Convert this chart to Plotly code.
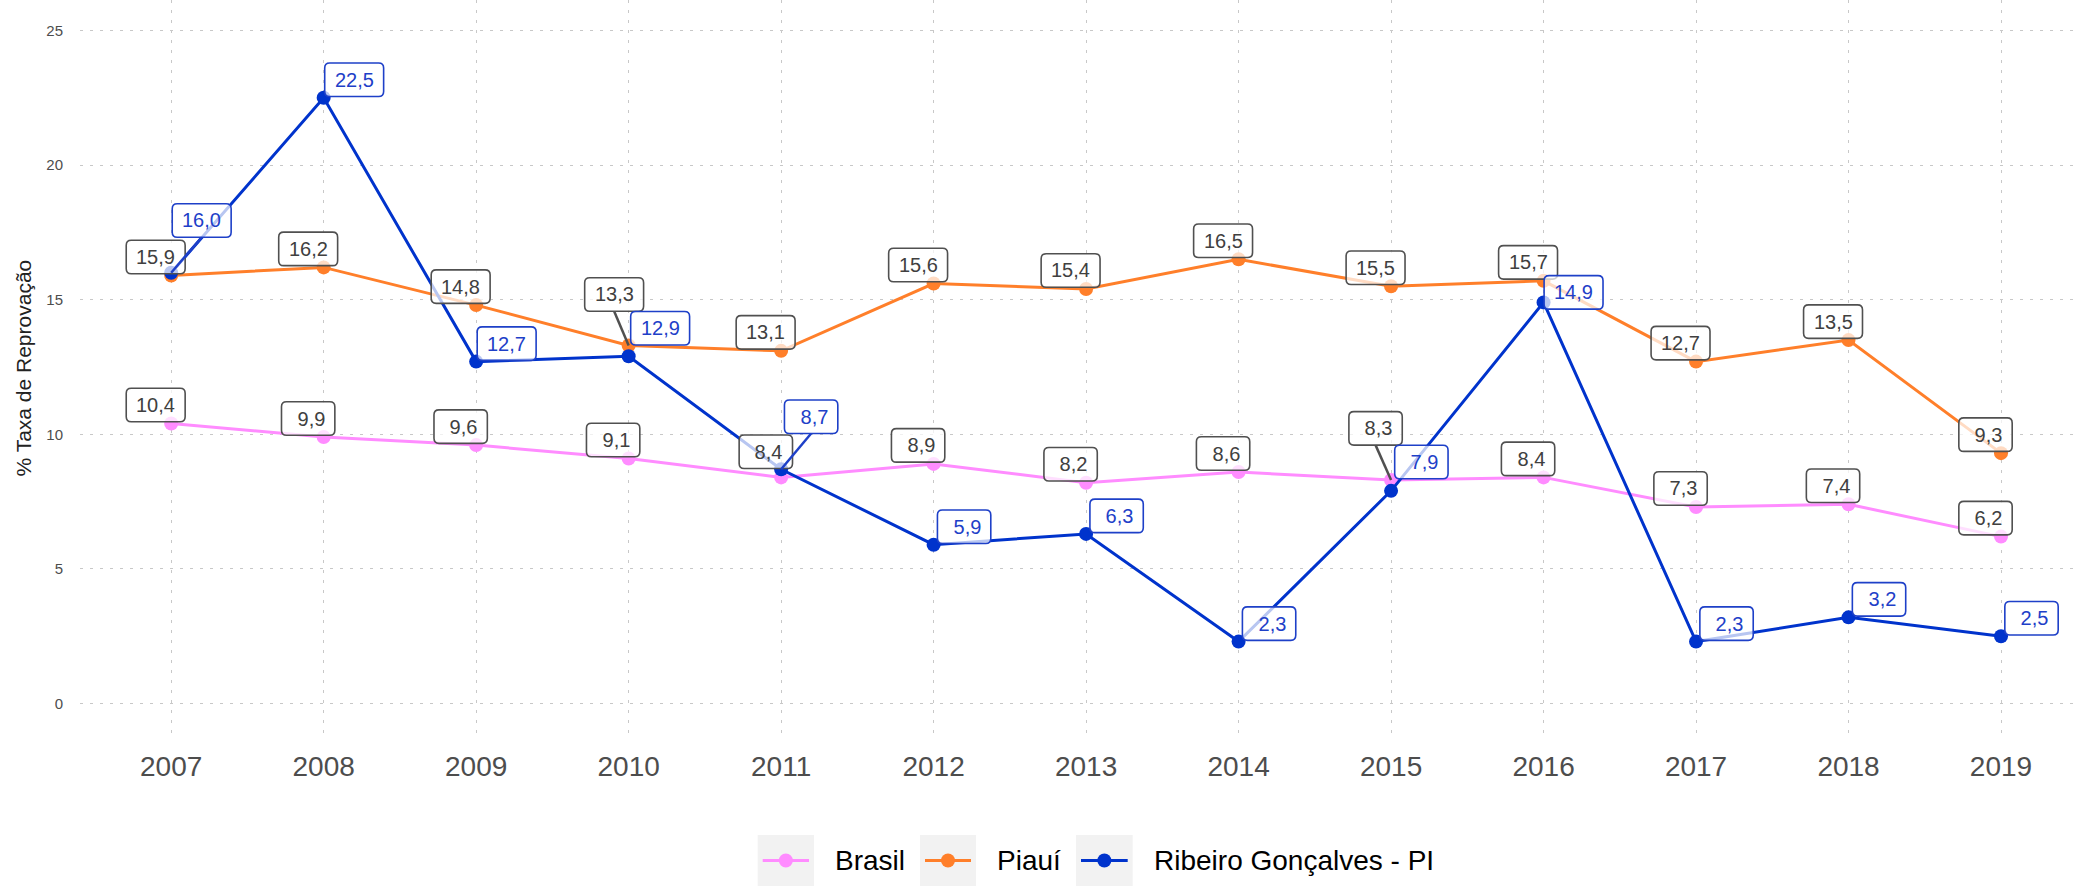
import plotly.graph_objects as go

# ---- dados ----
anos = list(range(2007, 2020))
brasil = [10.4, 9.9, 9.6, 9.1, 8.4, 8.9, 8.2, 8.6, 8.3, 8.4, 7.3, 7.4, 6.2]
piaui = [15.9, 16.2, 14.8, 13.3, 13.1, 15.6, 15.4, 16.5, 15.5, 15.7, 12.7, 13.5, 9.3]
ribeiro = [16.0, 22.5, 12.7, 12.9, 8.7, 5.9, 6.3, 2.3, 7.9, 14.9, 2.3, 3.2, 2.5]

nomes = ["Brasil", "Piauí", "Ribeiro Gonçalves - PI"]
valores = [brasil, piaui, ribeiro]
cores = ["#FF8CFF", "#FF7F2A", "#0033CC"]

FONT = "Liberation Sans, Arial, Helvetica, sans-serif"
W, H = 2080, 886
ML, MR, MT, MB = 80, 0, 0, 149
PW, PH = W - ML - MR, H - MT - MB

# posição dos rótulos (deslocamento do centro da caixa em px, y para baixo)
desloc_padrao = {0: (-15.5, -18.5), 1: (-15.5, -18.5), 2: (30.5, -18.0)}
desloc_extra = {
    (2, 2007): (30.5, -52.3),
    (2, 2010): (31.5, -28.0),
    (2, 2011): (30.0, -52.6),
    (1, 2010): (-14.5, -51.0),
    (0, 2011): (-15.3, -25.7),
    (2, 2016): (30.0, -10.0),
    (0, 2015): (-15.5, -51.7),
    (2, 2015): (30.3, -28.8),
}
com_segmento = {(2, 2007), (2, 2011), (1, 2010), (0, 2015)}

estilo_rotulo = {
    0: dict(texto="#404040", borda="#505050"),
    1: dict(texto="#404040", borda="#505050"),
    2: dict(texto="#1E40C8", borda="#1E40C8"),
}

LARG = {"0": .556, "1": .556, "2": .556, "3": .556, "4": .556, "5": .556,
        "6": .556, "7": .556, "8": .556, "9": .556, ",": .278, " ": .278}
FS_ROT = 20
BOX_H = 33.5


def formata(v):
    return f"{v:.1f}".replace(".", ",").rjust(4)


def caixa_arred(cx, cy, w, h, r=5):
    # cx, cy em px relativos ao ponto (y para cima)
    l, rt = cx - w / 2, cx + w / 2
    b, t = cy - h / 2, cy + h / 2
    return (f"M {l + r},{b} L {rt - r},{b} Q {rt},{b} {rt},{b + r} "
            f"L {rt},{t - r} Q {rt},{t} {rt - r},{t} L {l + r},{t} "
            f"Q {l},{t} {l},{t - r} L {l},{b + r} Q {l},{b} {l + r},{b} Z")


fig = go.Figure()

for nome, ys, cor in zip(nomes, valores, cores):
    fig.add_trace(go.Scatter(
        x=anos, y=ys, name=nome, mode="lines+markers",
        line=dict(color=cor, width=3),
        marker=dict(color=cor, size=14),
        showlegend=False, hoverinfo="skip",
    ))

shapes = []
annotations = []

for s, ys in enumerate(valores):
    est = estilo_rotulo[s]
    for ano, v in zip(anos, ys):
        dx, dy = desloc_extra.get((s, ano), desloc_padrao[s])
        txt = formata(v)
        w = sum(LARG[c] for c in txt) * FS_ROT + 20
        if (s, ano) in com_segmento:
            shapes.append(dict(
                type="path", xref="x", yref="y", xsizemode="pixel", ysizemode="pixel",
                xanchor=ano, yanchor=v,
                path=f"M 0,0 L {dx},{-(dy + BOX_H / 2)}",
                line=dict(color=est["borda"], width=2.5), layer="above",
            ))
        shapes.append(dict(
            type="path", xref="x", yref="y", xsizemode="pixel", ysizemode="pixel",
            xanchor=ano, yanchor=v,
            path=caixa_arred(dx, -dy, w, BOX_H),
            line=dict(color=est["borda"], width=1.6),
            fillcolor="rgba(255,255,255,0.72)", layer="above",
        ))
        annotations.append(dict(
            x=ano, y=v, xref="x", yref="y", showarrow=False,
            text=txt.replace(" ", "\u00a0"), xshift=dx, yshift=-dy,
            xanchor="center", yanchor="middle",
            font=dict(family=FONT, size=FS_ROT, color=est["texto"]),
        ))


# ---- legenda ----
def px_x(p):
    return (p - ML) / PW


def px_y(p):
    return (MT + PH - p) / PH


chaves = [(757.7, 814.0, 832.7), (920.0, 976.0, 995.0), (1076.0, 1132.7, 1151.7)]
ky0, ky1 = 835.0, 886.0
kyc = (ky0 + ky1) / 2
for (x0, x1, xt), nome, cor in zip(chaves, nomes, cores):
    shapes.append(dict(type="rect", xref="paper", yref="paper",
                       x0=px_x(x0), x1=px_x(x1), y0=px_y(ky1), y1=px_y(ky0),
                       fillcolor="#F2F2F2", line=dict(width=0), layer="below"))
    shapes.append(dict(type="line", xref="paper", yref="paper",
                       x0=px_x(x0 + 5), x1=px_x(x1 - 5), y0=px_y(kyc), y1=px_y(kyc),
                       line=dict(color=cor, width=3)))
    shapes.append(dict(type="circle", xref="paper", yref="paper",
                       xsizemode="pixel", ysizemode="pixel",
                       xanchor=px_x((x0 + x1) / 2), yanchor=px_y(kyc),
                       x0=-7, x1=7, y0=-7, y1=7,
                       fillcolor=cor, line=dict(width=0)))
    annotations.append(dict(x=px_x(xt), y=px_y(kyc), xref="paper", yref="paper",
                            text=nome, showarrow=False, xanchor="left", yanchor="middle",
                            font=dict(family=FONT, size=28, color="#000000")))

# título do eixo y
annotations.append(dict(x=0, y=0.5, xref="paper", yref="paper", xshift=-57,
                        text="% Taxa de Reprovação", textangle=-90, showarrow=False,
                        xanchor="center", yanchor="middle",
                        font=dict(family=FONT, size=21, color="#222222")))

fig.update_layout(
    width=W, height=H,
    margin=dict(l=ML, r=MR, t=MT, b=MB, pad=0),
    paper_bgcolor="white", plot_bgcolor="white",
    font=dict(family=FONT),
    shapes=shapes, annotations=annotations,
    showlegend=False,
    xaxis=dict(
        range=[2006.402, 2019.518], tickmode="array", tickvals=anos,
        ticktext=[str(a) for a in anos],
        tickfont=dict(family=FONT, size=28, color="#4D4D4D"),
        showgrid=True, gridcolor="#C8C8C8", gridwidth=1, griddash="3px,7px",
        zeroline=False, showline=False, ticks="", ticklabelstandoff=10,
    ),
    yaxis=dict(
        range=[-1.244, 26.133], tickmode="array", tickvals=[0, 5, 10, 15, 20, 25],
        tickfont=dict(family=FONT, size=15, color="#4D4D4D"),
        showgrid=True, gridcolor="#C8C8C8", gridwidth=1, griddash="3px,7px",
        zeroline=False, showline=False, ticks="", ticklabelstandoff=16,
    ),
)

fig.write_html("out.html")
